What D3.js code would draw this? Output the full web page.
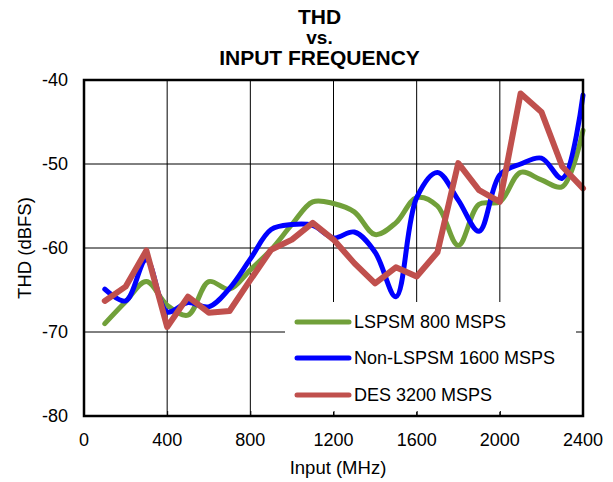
<!DOCTYPE html>
<html>
<head>
<meta charset="utf-8">
<script src="https://cdn.jsdelivr.net/npm/d3@7"></script>
<style>
  html, body { margin: 0; padding: 0; background: #fff; }
  svg { display: block; font-family: "Liberation Sans", Arial, sans-serif; }
</style>
</head>
<body>
<svg id="chart" width="613" height="482"></svg>
<script>
// ---- data ----
const freqs = [100, 200, 300, 400, 500, 600, 700, 800, 900, 1000, 1100, 1200,
               1300, 1400, 1500, 1600, 1700, 1800, 1900, 2000, 2100, 2200, 2300, 2400];
const lspsm800 = [-69.0, -66.4, -64.0, -66.8, -68.0, -64.0, -64.9, -62.6, -60.2, -57.2, -54.5, -54.7,
                  -55.7, -58.4, -57.0, -54.0, -55.0, -59.7, -54.8, -54.5, -51.0, -51.9, -52.7, -46.0];
const nonLspsm1600 = [-64.9, -66.3, -61.4, -67.6, -66.5, -67.0, -64.8, -61.3, -57.8, -57.2, -57.3, -58.8,
                      -58.1, -60.5, -65.8, -54.0, -51.0, -54.3, -58.0, -51.3, -50.0, -49.3, -51.7, -41.8];
const des3200 = [-66.3, -64.6, -60.3, -69.4, -65.8, -67.7, -67.5, -63.8, -60.2, -59.0, -57.0, -59.0,
                 -61.8, -64.2, -62.3, -63.4, -60.5, -49.9, -53.1, -54.5, -41.6, -43.8, -50.3, -52.9];
const seriesNames = ["LSPSM 800 MSPS", "Non-LSPSM 1600 MSPS", "DES 3200 MSPS"];
const seriesColors = ["#71a03a", "#0000ff", "#c0504d"];
const xTicks = [0, 400, 800, 1200, 1600, 2000, 2400];
const yTicks = [-80, -70, -60, -50, -40];
const titleLines = ["THD", "vs.", "INPUT FREQUENCY"];

// ---- layout ----
const svg = d3.select("#chart");
const L = 84, R = 583, T = 80, B = 416;
const x = d3.scaleLinear().domain([0, 2400]).range([L, R]);
const y = d3.scaleLinear().domain([-80, -40]).range([B, T]);

// title
const titleY = [23.5, 44, 65];
const titleSize = [21, 19, 21];
titleLines.forEach((t, i) => {
  svg.append("text").attr("x", 319.5).attr("y", titleY[i])
    .attr("text-anchor", "middle").attr("font-weight", "bold")
    .attr("font-size", titleSize[i]).attr("fill", "#000").text(t);
});

// grid
const grid = svg.append("g");
grid.selectAll("line.v").data(xTicks.slice(1, -1)).join("line")
  .attr("x1", d => x(d)).attr("x2", d => x(d)).attr("y1", T).attr("y2", B)
  .attr("stroke", "#000").attr("stroke-width", 1);
grid.selectAll("line.h").data(yTicks.slice(1, -1)).join("line")
  .attr("x1", L).attr("x2", R).attr("y1", d => y(d)).attr("y2", d => y(d))
  .attr("stroke", "#000").attr("stroke-width", 1);

// legend background
svg.append("rect").attr("x", 285).attr("y", 302).attr("width", 291).attr("height", 110)
  .attr("fill", "#fff");

// inward ticks on bottom axis
svg.append("g").attr("transform", `translate(0,${B})`)
  .call(d3.axisBottom(x).tickValues(xTicks).tickSizeInner(-5).tickSizeOuter(0).tickFormat(""))
  .call(g => g.select(".domain").remove())
  .call(g => g.selectAll("line").attr("stroke", "#000"));

// lines
const allSeries = [lspsm800, nonLspsm1600, des3200];
const curves = [d3.curveCatmullRom.alpha(0.5), d3.curveCatmullRom.alpha(0.5), d3.curveLinear];
const widths = [5, 5, 6];
allSeries.forEach((vals, i) => {
  const line = d3.line().x((d, j) => x(freqs[j])).y(d => y(d)).curve(curves[i]);
  svg.append("path").datum(vals).attr("d", line)
    .attr("fill", "none").attr("stroke", seriesColors[i]).attr("stroke-width", widths[i])
    .attr("stroke-linejoin", "round").attr("stroke-linecap", "round");
});

// frame
svg.append("rect").attr("x", L).attr("y", T).attr("width", R - L).attr("height", B - T)
  .attr("fill", "none").attr("stroke", "#000").attr("stroke-width", 2.5);

// tick labels
svg.append("g").selectAll("text").data(xTicks).join("text")
  .attr("x", d => x(d)).attr("y", 446).attr("text-anchor", "middle")
  .attr("font-size", 18).attr("fill", "#000").text(d => d);
svg.append("g").selectAll("text").data(yTicks).join("text")
  .attr("x", 68).attr("y", d => y(d)).attr("dy", "0.35em").attr("text-anchor", "end")
  .attr("font-size", 18).attr("fill", "#000").text(d => d);

// axis titles
svg.append("text").attr("x", 338).attr("y", 474).attr("text-anchor", "middle")
  .attr("font-size", 18.5).attr("fill", "#000").text("Input (MHz)");
svg.append("text").attr("transform", "translate(31,248) rotate(-90)")
  .attr("text-anchor", "middle").attr("font-size", 18.5).attr("fill", "#000").text("THD (dBFS)");

// legend
const legY = [322, 358, 395];
seriesNames.forEach((n, i) => {
  svg.append("line").attr("x1", 297).attr("x2", 349).attr("y1", legY[i]).attr("y2", legY[i])
    .attr("stroke", seriesColors[i]).attr("stroke-width", 5).attr("stroke-linecap", "round");
  svg.append("text").attr("x", 354).attr("y", legY[i]).attr("dy", "0.36em")
    .attr("font-size", 18).attr("fill", "#000").text(n);
});
</script>
</body>
</html>
